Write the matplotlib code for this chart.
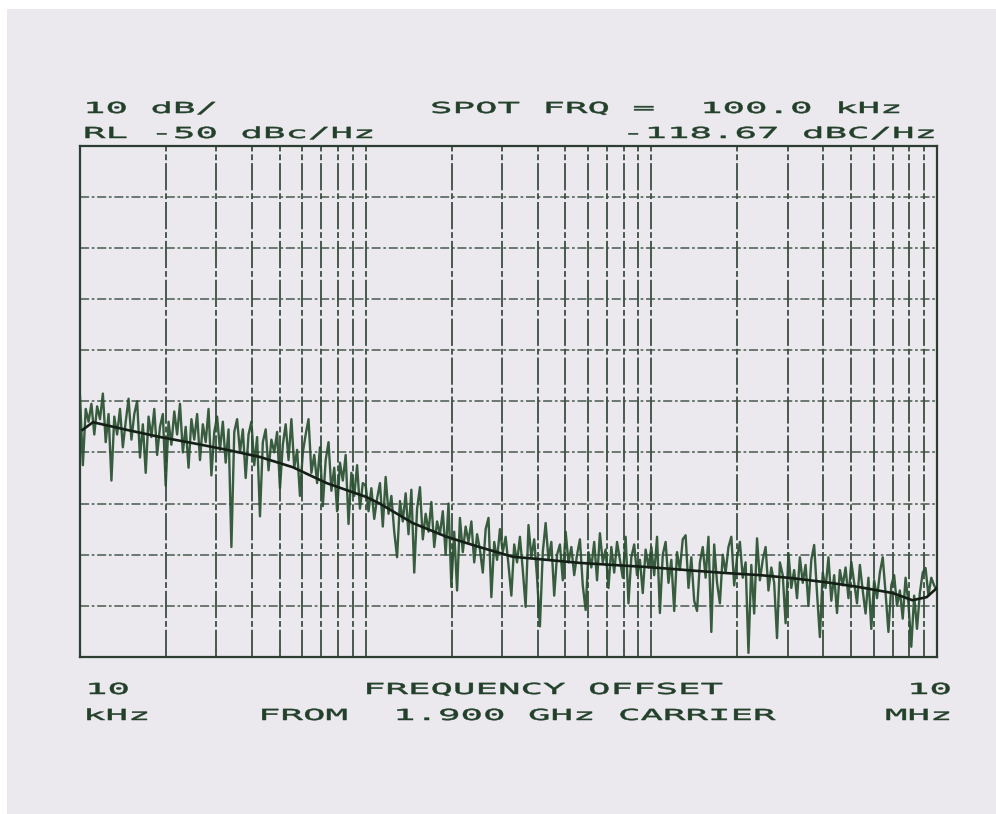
import numpy as np
import matplotlib
matplotlib.use("Agg")
import matplotlib.pyplot as plt
from matplotlib.patches import Rectangle
from matplotlib.patheffects import AbstractPathEffect
from matplotlib.transforms import Affine2D
from matplotlib.ticker import LogLocator, MultipleLocator, NullFormatter

# ---------------- data ----------------
# Span of the phase-noise sweep (Hz) and the display window (dBc/Hz)
f_start = 1e4
f_stop = 1e7
ref_level = -50
db_per_div = 10
n_div = 10

# Raw measured trace, 100 sweep points per decade (dBc/Hz)
trace_dec1 = [
    -99.0, -112.5, -101.5, -104.0, -100.5, -106.5, -101.0, -103.5, -98.5, -108.0,
    -102.5, -115.5, -103.0, -106.5, -101.5, -109.0, -104.0, -99.5, -107.5, -102.5,
    -100.0, -111.0, -104.5, -114.0, -103.0, -107.0, -101.5, -110.5, -105.0, -102.5,
    -116.5, -104.0, -108.5, -102.0, -106.5, -100.5, -110.0, -105.0, -113.0, -103.5,
    -107.5, -102.5, -111.5, -104.5, -108.0, -101.5, -114.5, -106.0, -103.0, -109.5,
    -104.0, -112.0, -105.5, -128.5, -106.0, -103.5, -110.0, -105.5, -115.0, -106.5,
    -104.0, -112.5, -107.0, -122.5, -108.0, -105.5, -113.5, -107.5, -110.0, -106.0,
    -117.0, -108.5, -104.5, -111.5, -103.5, -113.0, -109.5, -118.5, -110.0, -106.5,
    -103.5, -114.0, -110.5, -116.0, -109.0, -120.5, -111.5, -108.0, -117.5, -113.0,
    -121.5, -112.0, -115.5, -110.5, -124.0, -114.0, -118.5, -112.5, -121.0, -116.0,
]
trace_dec2 = [
    -116.5, -121.5, -117.0, -123.0, -119.0, -116.0, -124.5, -114.8, -122.0, -118.5,
    -125.5, -130.5, -119.5, -123.5, -118.0, -126.0, -117.3, -133.5, -121.0, -116.8,
    -127.0, -122.0, -125.5, -119.7, -128.5, -123.5, -126.0, -121.5, -130.0, -120.0,
    -136.3, -125.5, -137.0, -122.8, -129.5, -124.5, -127.5, -123.5, -131.5, -126.0,
    -129.0, -133.5, -125.0, -122.8, -138.3, -127.5, -131.0, -125.0, -129.5, -126.5,
    -132.0, -138.0, -128.0, -131.5, -126.5, -133.0, -140.2, -124.2, -130.5, -127.0,
    -134.5, -144.0, -129.5, -123.8, -131.0, -127.5, -138.0, -130.0, -128.0, -135.0,
    -125.5, -131.5, -128.5, -134.0, -130.0, -127.0, -136.0, -140.8, -129.5, -132.5,
    -127.5, -135.0, -125.8, -131.5, -129.0, -136.5, -128.5, -133.5, -127.5, -131.0,
    -134.5, -126.5, -139.5, -130.5, -128.0, -134.0, -131.0, -137.5, -129.0, -132.5,
]
trace_dec3 = [
    -128.5, -134.0, -126.5, -141.4, -130.0, -127.5, -135.5, -131.0, -141.0, -129.5,
    -133.0, -127.0, -126.2, -136.5, -130.5, -139.0, -141.0, -131.5, -128.5, -134.5,
    -126.5, -145.1, -128.0, -135.5, -139.5, -130.0, -133.5, -128.5, -126.5, -136.0,
    -130.5, -127.5, -134.5, -131.5, -149.2, -132.0, -141.5, -126.8, -135.0, -131.0,
    -128.5, -137.0, -132.5, -135.5, -146.3, -131.5, -134.0, -143.4, -129.7, -136.5,
    -133.0, -138.5, -130.5, -135.5, -132.0, -140.0, -131.0, -128.1, -137.5, -146.1,
    -133.5, -136.5, -130.5, -139.0, -134.0, -141.4, -133.0, -136.0, -132.5, -138.5,
    -131.4, -135.5, -139.5, -132.0, -137.0, -141.5, -134.5, -144.5, -135.0, -138.5,
    -133.5, -130.5, -137.5, -145.1, -136.0, -134.0, -140.0, -137.0, -142.5, -134.5,
    -139.5, -148.0, -138.0, -144.5, -137.5, -133.5, -132.6, -138.0, -134.5, -136.0,
    -137.0,
]

# Smoothed (averaged) phase-noise curve
smooth_freq_khz = [10.2, 11.1, 14.6, 19.1, 24.9, 32.7, 42.7, 55.6, 73.0, 100.0,
                   112.0, 146.0, 192.0, 250.0, 327.0, 430.0, 560.0, 730.0, 960.0,
                   1260.0, 1390.0, 1840.0, 2410.0, 3130.0, 4100.0, 5300.0, 7000.0,
                   8200.0, 9200.0, 10000.0]
smooth_dbc = [-105.6, -104.1, -105.6, -107.0, -108.2, -109.5, -110.9, -112.9, -116.0,
              -118.67, -120.0, -123.8, -126.5, -128.5, -130.4, -131.0, -131.6, -132.0,
              -132.4, -132.9, -133.1, -133.6, -134.0, -134.6, -135.4, -136.3, -137.5,
              -138.9, -138.3, -136.5]

# Annotation text
header_left = ["10 dB/", "RL -50 dBc/Hz"]
header_right = ["SPOT FRQ =  100.0 kHz", "-118.67 dBC/Hz"]
footer_left = ["10", "kHz"]
footer_mid = ["FREQUENCY OFFSET", "FROM  1.900 GHz CARRIER"]
footer_right = ["10", "MHz"]

# ---------------- styling ----------------
W, H = 996, 814
paper = "#ebe8ee"
ink = "#22402a"
grid_ink = "#3e5244"
trace_col = "#28502f"
smooth_col = "#141f16"


class WideGlyphs(AbstractPathEffect):
    """Stretch glyphs horizontally, like pen-plotter lettering, with a thin pen outline."""

    def __init__(self, sx, pen=0.35):
        super().__init__()
        self._sx = sx
        self._pen = pen

    def draw_path(self, renderer, gc, tpath, affine, rgbFace=None):
        m = affine.get_matrix().copy()
        m[0, 0] *= self._sx
        m[0, 1] *= self._sx
        gc0 = renderer.new_gc()
        gc0.copy_properties(gc)
        if rgbFace is not None:
            gc0.set_foreground(rgbFace)
        gc0.set_linewidth(self._pen)
        renderer.draw_path(gc0, tpath, Affine2D(m), rgbFace)
        gc0.restore()


fig = plt.figure(figsize=(W / 100, H / 100), dpi=100, facecolor="white")
fig.patches.append(Rectangle((7 / W, 0), 1 - 7 / W, 1 - 9 / H,
                             transform=fig.transFigure, facecolor=paper,
                             edgecolor="none", zorder=-10))

left, right, top, bottom = 80, 937, 145.5, 657
ax = fig.add_axes([left / W, 1 - bottom / H, (right - left) / W, (bottom - top) / H])
ax.set_facecolor(paper)

freqs = np.logspace(np.log10(f_start), np.log10(f_stop), 301)
trace = np.array(trace_dec1 + trace_dec2 + trace_dec3)

ax.plot(freqs, trace, color=trace_col, lw=1.7, alpha=0.92, zorder=3)
ax.plot(np.array(smooth_freq_khz) * 1e3, smooth_dbc, color=smooth_col, lw=1.9,
        zorder=4)

ax.set_xscale("log")
ax.set_xlim(f_start, f_stop)
ax.set_ylim(ref_level - n_div * db_per_div, ref_level)
ax.xaxis.set_major_locator(LogLocator(base=10, numticks=10))
ax.xaxis.set_minor_locator(LogLocator(base=10, subs=np.arange(2, 10), numticks=20))
ax.xaxis.set_minor_formatter(NullFormatter())
ax.yaxis.set_major_locator(MultipleLocator(db_per_div))
ax.tick_params(which="both", length=0, labelbottom=False, labelleft=False)

ax.xaxis.grid(True, which="both", color=grid_ink, lw=1.4,
              linestyle=(0, (14, 1.5, 3, 1.5)), alpha=0.95, zorder=1)
ax.yaxis.grid(True, which="major", color=grid_ink, lw=1.3,
              linestyle=(0, (5, 1.5, 1.5, 1.5)), alpha=0.8, zorder=1)
ax.set_axisbelow(True)
for sp in ax.spines.values():
    sp.set_color("#2c3d31")
    sp.set_linewidth(1.6)

# Plotter lettering: fixed 22.5 px character pitch
pitch = 22.5
fs_px = 15.2
font = dict(family="DejaVu Sans Mono", size=fs_px * 72 / 100, color=ink)
stretch = pitch / (0.602 * fs_px)
effect = [WideGlyphs(stretch)]


def put(x_px, baseline_px, s):
    fig.text(x_px / W, 1 - baseline_px / H, s, ha="left", va="baseline",
             path_effects=effect, **font)


put(83, 113, header_left[0])
put(83, 138, header_left[1])
put(430, 113, header_right[0])
put(622, 138, header_right[1])
put(85, 694, footer_left[0])
put(83, 720, footer_left[1])
put(363, 694, footer_mid[0])
put(258, 720, footer_mid[1])
put(907, 694, footer_right[0])
put(885, 720, footer_right[1])

fig.savefig("out.png", dpi=100, facecolor=fig.get_facecolor())
